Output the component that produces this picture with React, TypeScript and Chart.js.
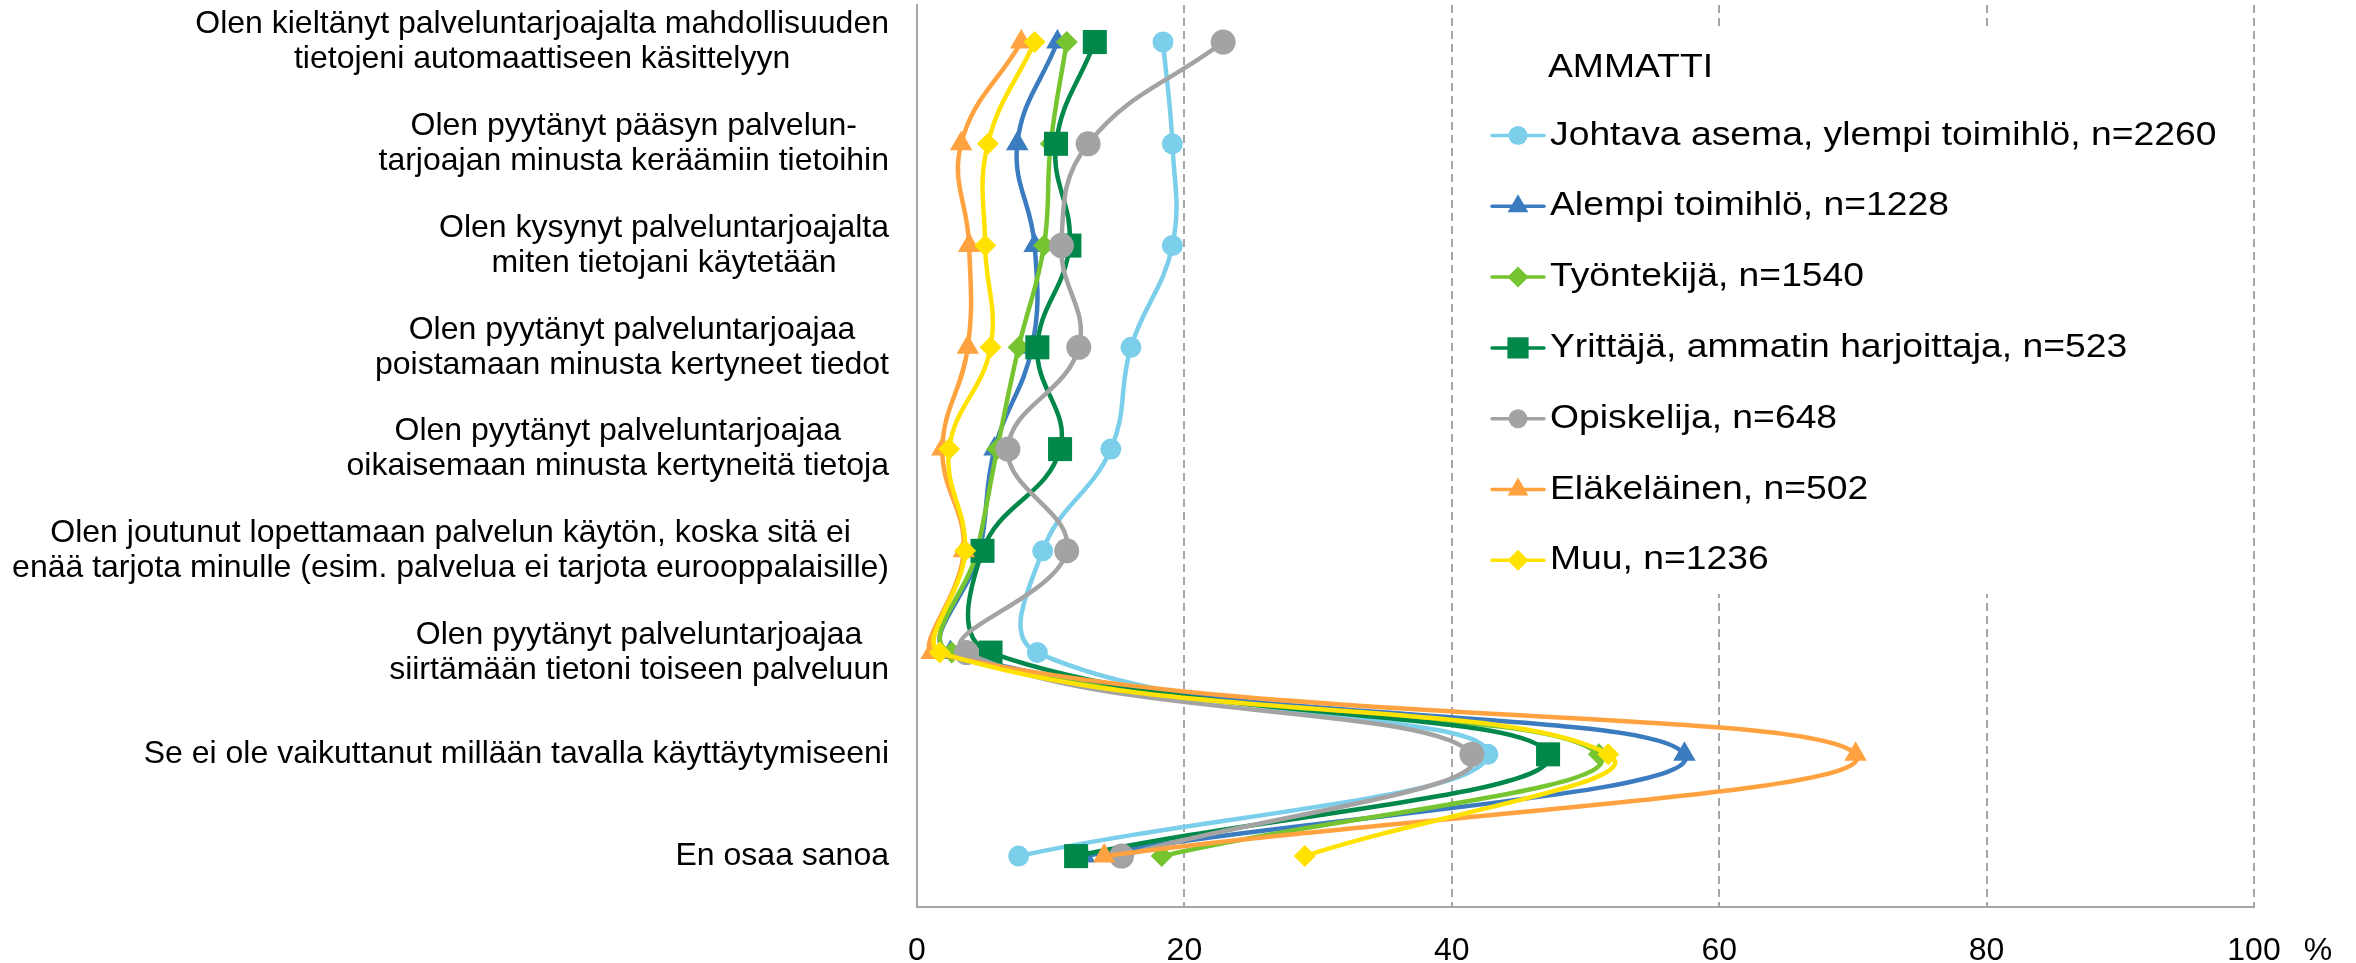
import React, { useEffect, useRef } from 'react';
import { Chart, registerables } from 'chart.js';

Chart.register(...registerables);

const categories: string[][] = [
  ['Olen kieltänyt palveluntarjoajalta mahdollisuuden', 'tietojeni automaattiseen käsittelyyn'],
  ['Olen pyytänyt pääsyn palvelun-', 'tarjoajan minusta keräämiin tietoihin'],
  ['Olen kysynyt palveluntarjoajalta', 'miten tietojani käytetään'],
  ['Olen pyytänyt palveluntarjoajaa', 'poistamaan minusta kertyneet tiedot'],
  ['Olen pyytänyt palveluntarjoajaa', 'oikaisemaan minusta kertyneitä tietoja'],
  ['Olen joutunut lopettamaan palvelun käytön, koska sitä ei', 'enää tarjota minulle (esim. palvelua ei tarjota eurooppalaisille)'],
  ['Olen pyytänyt palveluntarjoajaa', 'siirtämään tietoni toiseen palveluun'],
  ['Se ei ole vaikuttanut millään tavalla käyttäytymiseeni'],
  ['En osaa sanoa'],
];

const legendTitle = 'AMMATTI';
const seriesNames = [
  'Johtava asema, ylempi toimihlö, n=2260',
  'Alempi toimihlö, n=1228',
  'Työntekijä, n=1540',
  'Yrittäjä, ammatin harjoittaja, n=523',
  'Opiskelija, n=648',
  'Eläkeläinen, n=502',
  'Muu, n=1236',
];

const johtava = [18.4, 19.1, 19.1, 16.0, 14.5, 9.4, 9.0, 42.7, 7.6];
const alempi = [10.5, 7.5, 8.8, 8.6, 5.8, 4.7, 2.5, 57.4, 12.5];
const tyontekija = [11.2, 10.0, 9.5, 7.6, 6.0, 4.5, 2.6, 51.0, 18.3];
const yrittaja = [13.3, 10.4, 11.4, 9.0, 10.7, 4.9, 5.5, 47.2, 11.9];
const opiskelija = [22.9, 12.8, 10.8, 12.1, 6.8, 11.2, 3.7, 41.5, 15.3];
const elakelainen = [7.8, 3.3, 3.9, 3.8, 1.9, 3.5, 1.1, 70.2, 14.0];
const muu = [8.8, 5.3, 5.1, 5.5, 2.4, 3.6, 1.7, 51.7, 29.0];

const xTicks = [0, 20, 40, 60, 80, 100];
const unitLabel = '%';

const FONT = "'Liberation Sans', Arial, sans-serif";

function drawMarker(ctx: CanvasRenderingContext2D, style: string, x: number, y: number, r: number, color: string) {
  ctx.save();
  ctx.fillStyle = color;
  ctx.beginPath();
  if (style === 'circle') {
    ctx.arc(x, y, r, 0, Math.PI * 2);
  } else if (style === 'triangle') {
    let rad = 0;
    ctx.moveTo(x + Math.sin(rad) * r, y - Math.cos(rad) * r);
    rad += (2 * Math.PI) / 3;
    ctx.lineTo(x + Math.sin(rad) * r, y - Math.cos(rad) * r);
    rad += (2 * Math.PI) / 3;
    ctx.lineTo(x + Math.sin(rad) * r, y - Math.cos(rad) * r);
    ctx.closePath();
  } else if (style === 'rectRot') {
    ctx.moveTo(x, y - r);
    ctx.lineTo(x + r, y);
    ctx.lineTo(x, y + r);
    ctx.lineTo(x - r, y);
    ctx.closePath();
  } else {
    const s = Math.SQRT1_2 * r;
    ctx.rect(x - s, y - s, 2 * s, 2 * s);
  }
  ctx.fill();
  ctx.restore();
}

export default function App() {
  const ref = useRef<HTMLCanvasElement>(null);

  useEffect(() => {
    if (!ref.current) return;
    const seriesValues = [johtava, alempi, tyontekija, yrittaja, opiskelija, elakelainen, muu];
    const colors = ['#7BCFEA', '#3B7CC0', '#76C42F', '#00884A', '#A3A3A3', '#FFA23F', '#FFE200'];
    const styles = ['circle', 'triangle', 'rectRot', 'rect', 'circle', 'triangle', 'rectRot'];
    const radii = [10.5, 13, 11, 17, 12.5, 13, 11];
    const legendRadii = [9.5, 12, 10.5, 15, 9.5, 12, 10.5];

    const datasets = seriesValues.map((vals, si) => ({
      label: seriesNames[si],
      data: vals.map((v, i) => ({ x: v, y: i })),
      borderColor: colors[si],
      backgroundColor: colors[si],
      pointBackgroundColor: colors[si],
      pointBorderColor: colors[si],
      pointBorderWidth: 0,
      pointStyle: styles[si],
      pointRadius: radii[si],
      borderWidth: 4.5,
      tension: 0.42,
      fill: false,
      order: seriesValues.length - si,
    }));

    const overlay = {
      id: 'overlay',
      afterDraw(chart: any) {
        const ctx: CanvasRenderingContext2D = chart.ctx;
        const ys = chart.scales.y;
        const area = chart.chartArea;
        ctx.save();
        ctx.font = `32px ${FONT}`;
        ctx.fillStyle = '#000';
        ctx.textBaseline = 'middle';
        ctx.textAlign = 'center';
        categories.forEach((lines, i) => {
          const yc = ys.getPixelForValue(i);
          const w = Math.max(...lines.map((l) => ctx.measureText(l).width));
          const cx = area.left - 28 - w / 2;
          lines.forEach((l, j) => ctx.fillText(l, cx, yc + (j - (lines.length - 1) / 2) * 35));
        });
        ctx.fillText(unitLabel, area.right + 64, area.bottom + 44);

        // legend
        ctx.fillStyle = '#fff';
        ctx.fillRect(1480, 27, 760, 567);
        ctx.fillStyle = '#000';
        ctx.textAlign = 'left';
        ctx.font = `33px ${FONT}`;
        const sx = 1.13;
        const drawStretched = (t: string, x: number, y: number) => {
          ctx.save();
          ctx.translate(x, y);
          ctx.scale(sx, 1);
          ctx.fillText(t, 0, 0);
          ctx.restore();
        };
        drawStretched(legendTitle, 1548, 68);
        seriesNames.forEach((name, si) => {
          const y = 135.5 + 70.8 * si;
          ctx.save();
          ctx.strokeStyle = colors[si];
          ctx.lineWidth = 3.5;
          ctx.lineCap = 'round';
          ctx.beginPath();
          ctx.moveTo(1492, y);
          ctx.lineTo(1544, y);
          ctx.stroke();
          ctx.restore();
          drawMarker(ctx, styles[si], 1518, y, legendRadii[si], colors[si]);
          ctx.fillStyle = '#000';
          drawStretched(name, 1550, y);
        });
        ctx.restore();
      },
    };

    const chart = new Chart(ref.current, {
      type: 'line',
      data: { datasets: datasets as any },
      options: {
        animation: false,
        responsive: false,
        indexAxis: 'y',
        devicePixelRatio: 1,
        layout: { autoPadding: false, padding: { top: 5, right: 102, left: 0, bottom: 0 } },
        plugins: { legend: { display: false }, tooltip: { enabled: false } },
        scales: {
          x: {
            type: 'linear',
            position: 'bottom',
            min: 0,
            max: 100,
            afterBuildTicks: (s: any) => {
              s.ticks = xTicks.map((v) => ({ value: v }));
            },
            afterFit: (s: any) => {
              s.height = 56;
            },
            ticks: {
              color: '#000',
              font: { family: FONT, size: 32 },
              padding: 25,
              maxRotation: 0,
            },
            grid: {
              drawTicks: false,
              lineWidth: 2,
              color: (c: any) => (c.tick && c.tick.value === 0 ? 'rgba(0,0,0,0)' : '#A6A6A6'),
            },
            border: { display: true, color: '#A6A6A6', width: 2, dash: [8, 5] },
          },
          y: {
            type: 'linear',
            position: 'left',
            reverse: true,
            min: -0.364,
            max: 8.5,
            afterFit: (s: any) => {
              s.width = 917;
            },
            ticks: { display: false },
            grid: { display: false, drawTicks: false },
            border: { display: true, color: '#A6A6A6', width: 2 },
          },
        },
      },
      plugins: [overlay],
    });
    return () => chart.destroy();
  }, []);

  return (
    <div style={{ position: 'fixed', left: 0, top: 0, width: 2356, height: 963, background: '#fff', overflow: 'hidden' }}>
      <canvas ref={ref} width={2356} height={963} style={{ display: 'block' }} />
    </div>
  );
}
